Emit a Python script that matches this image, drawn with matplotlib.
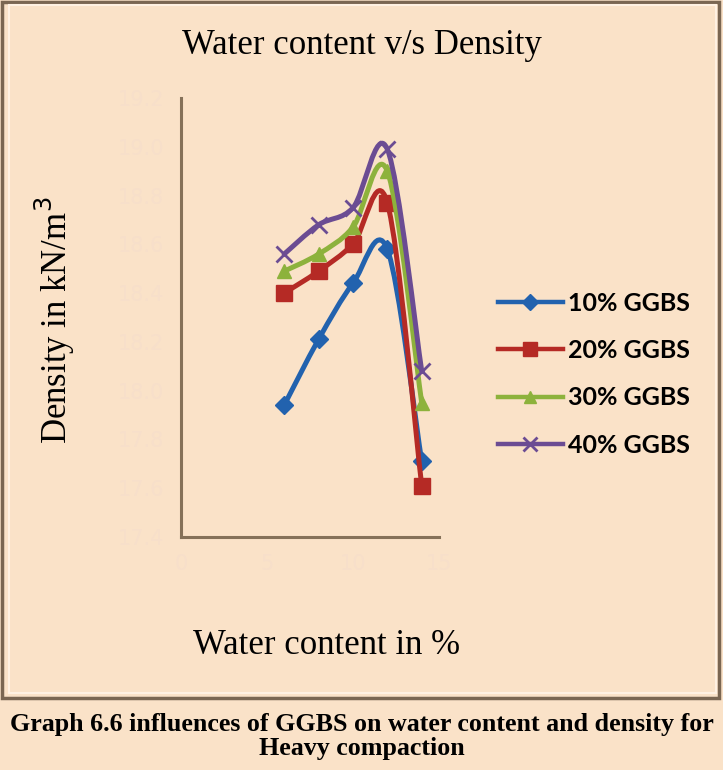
import numpy as np
import matplotlib.pyplot as plt
from matplotlib.path import Path
from matplotlib.patches import PathPatch, Rectangle
from matplotlib.lines import Line2D

# water content (%) and dry density (kN/m3)
water = [6, 8, 10, 12, 14]
dens_10 = [17.94, 18.21, 18.44, 18.58, 17.71]
dens_20 = [18.40, 18.49, 18.60, 18.77, 17.61]
dens_30 = [18.49, 18.56, 18.67, 18.90, 17.95]
dens_40 = [18.56, 18.68, 18.75, 18.99, 18.08]
labels = ["10% GGBS", "20% GGBS", "30% GGBS", "40% GGBS"]
x_ticks = [0, 5, 10, 15]
y_ticks = [17.4, 17.6, 17.8, 18.0, 18.2, 18.4, 18.6, 18.8, 19.0, 19.2]

bg = "#FAE2C8"
colores = ["#2262AE", "#B52A25", "#8DB23C", "#6B4C93"]
marcadores = ["D", "s", "^", "x"]
tam = [9, 11, 10, 11]


def curva_suave(x, y):
    # bezier tipo excel (catmull-rom) que pasa por los puntos
    pts = np.column_stack([x, y]).astype(float)
    verts = [pts[0]]
    codes = [Path.MOVETO]
    n = len(pts)
    for i in range(n - 1):
        p0 = pts[i - 1] if i > 0 else pts[i]
        p1 = pts[i]
        p2 = pts[i + 1]
        p3 = pts[i + 2] if i + 2 < n else pts[i + 1]
        verts += [p1 + (p2 - p0) / 6, p2 - (p3 - p1) / 6, p2]
        codes += [Path.CURVE4] * 3
    return Path(verts, codes)


fig = plt.figure(figsize=(7.23, 7.70), dpi=100, facecolor=bg)
ax = fig.add_axes([0.2503, 0.3026, 0.3568, 0.5701])
ax.set_facecolor(bg)

series = [dens_10, dens_20, dens_30, dens_40]
handles = []
for i, dens in enumerate(series):
    patch = PathPatch(curva_suave(water, dens), fill=False, edgecolor=colores[i],
                      lw=3.6, capstyle="round", joinstyle="round", zorder=2 + i)
    ax.add_patch(patch)
    ax.plot(water, dens, linestyle="none", marker=marcadores[i], markersize=tam[i],
            color=colores[i], markeredgewidth=2 if marcadores[i] == "x" else 1,
            zorder=2 + i)
    handles.append(Line2D([], [], color=colores[i], lw=3.2, marker=marcadores[i],
                          markersize=tam[i] - 1,
                          markeredgewidth=2 if marcadores[i] == "x" else 1))

ax.set_xlim(0, 15)
ax.set_ylim(17.4, 19.2)
ax.set_xticks(x_ticks)
ax.set_yticks(y_ticks)
ax.set_xticklabels([str(t) for t in x_ticks])
ax.set_yticklabels(["%.1f" % t for t in y_ticks])
ax.tick_params(length=0, labelsize=15, colors="#F7DFCA", pad=12)
for s in ["top", "right"]:
    ax.spines[s].set_visible(False)
for s in ["left", "bottom"]:
    ax.spines[s].set_color("#857159")
    ax.spines[s].set_linewidth(2.2)

fig.legend(handles, labels, loc="center left", bbox_to_anchor=(0.657, 0.514),
           frameon=False, handlelength=2.6, labelspacing=0.97, handletextpad=0.2,
           prop={"family": "Lato", "weight": "bold", "size": 18})

fig.text(0.5, 0.941, "Water content v/s Density", ha="center", va="center",
         family="Liberation Serif", fontsize=25)
fig.text(0.076, 0.584, "Density in kN/m$^3$", ha="center", va="center", rotation=90,
         family="Liberation Serif", fontsize=25)
fig.text(0.452, 0.162, "Water content in %", ha="center", va="center",
         family="Liberation Serif", fontsize=25)

# marco del grafico
fig.patches.append(Rectangle((0.003, 0.094), 0.992, 0.903, transform=fig.transFigure,
                             fill=False, edgecolor="#7A6652", lw=2.5))
fig.patches.append(Rectangle((0.012, 0.1), 0.978, 0.893, transform=fig.transFigure,
                             fill=False, edgecolor="#FFF1E2", lw=1.5))

fig.text(0.5, 0.043, "Graph 6.6 influences of GGBS on water content and density for\nHeavy compaction",
         ha="center", va="center", family="Liberation Serif", weight="bold",
         fontsize=18.7, linespacing=1.05)

fig.savefig("out.png", dpi=100, facecolor=bg)
